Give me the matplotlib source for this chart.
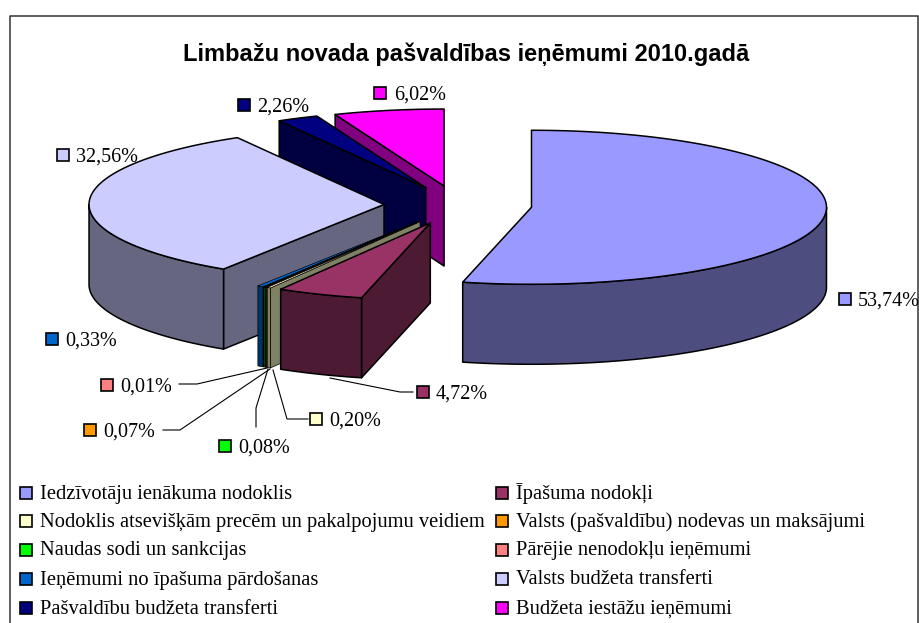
"""Limbazu novada budget income, exploded 3D-look pie drawn from wedge polygons."""
import numpy as np
import matplotlib

matplotlib.use("Agg")
import matplotlib.pyplot as plt
from matplotlib.colors import to_rgb
from matplotlib.patches import Polygon, Rectangle

plt.rcParams["font.family"] = ["Liberation Serif", "DejaVu Serif"]

TITLE = "Limbažu novada pašvaldības ieņēmumi 2010.gadā"
categories = [
    "Iedzīvotāju ienākuma nodoklis",
    "Īpašuma nodokļi",
    "Nodoklis atsevišķām precēm un pakalpojumu veidiem",
    "Valsts (pašvaldību) nodevas un maksājumi",
    "Naudas sodi un sankcijas",
    "Pārējie nenodokļu ieņēmumi",
    "Ieņēmumi no īpašuma pārdošanas",
    "Valsts budžeta transferti",
    "Pašvaldību budžeta transferti",
    "Budžeta iestāžu ieņēmumi",
]
shares = [53.74, 4.72, 0.20, 0.07, 0.08, 0.01, 0.33, 32.56, 2.26, 6.02]
colors = ["#9999FF", "#993366", "#FFFFCC", "#FF9900", "#00FF00",
          "#FF8080", "#0066CC", "#CCCCFF", "#000080", "#FF00FF"]

# pie geometry, in pixels of the figure
CX, CY = 458, 205
RX, RY = 295, 77
DEPTH = 80
EXPLODE = 74
EDGE = 1.1
THIN_EDGE = 0.5  # the tiny slices would be all outline otherwise

# square left, square centre y, text left per label, same order as shares
LABEL_POS = [(839, 299, 858), (417, 392, 436), (310, 419, 329), (84, 430, 103), (219, 446, 238),
             (101, 385, 120), (46, 339, 65), (57, 155, 76), (238, 105, 257), (374, 93, 394)]
LEADERS = {
    1: [(330, 378), (400, 392), (413, 392)],
    2: [(308, 419), (287, 419), (273, 370)],
    3: [(163, 430), (180, 430), (270, 369)],
    4: [(256, 427), (256, 408), (268, 369)],
    5: [(179, 384), (197, 384), (267, 368)],
}
LEGEND_X = [(20, 40), (496, 516)]
LEGEND_Y = [493, 521, 550, 579, 608]


def rim(cx, cy, t):
    return np.column_stack([cx + RX * np.sin(t), cy - RY * np.cos(t)])


def draw_slice(ax, start, end, color, lw):
    mid = (start + end) / 2
    cx = CX + EXPLODE * np.sin(mid)
    cy = CY - EXPLODE * RY / RX * np.cos(mid)
    side = tuple(c * 0.5 for c in to_rgb(color))
    down = np.array([0, DEPTH])
    apex = np.array([cx, cy])
    style = dict(edgecolor="black", linewidth=lw, joinstyle="round")

    # radial walls, only the ones turned towards the viewer
    for t, visible in ((start, np.sin(start) < 0), (end, np.sin(end) > 0)):
        if visible:
            p = rim(cx, cy, np.array([t]))[0]
            ax.add_patch(Polygon([apex, p, p + down, apex + down], facecolor=side, **style))
    # curved front, the part of the rim between 90 and 270 degrees
    lo, hi = max(start, np.pi / 2), min(end, 3 * np.pi / 2)
    if hi > lo:
        arc = rim(cx, cy, np.linspace(lo, hi, 80))
        ax.add_patch(Polygon(np.vstack([arc, arc[::-1] + down]), facecolor=side, **style))
    arc = rim(cx, cy, np.linspace(start, end, 160))
    ax.add_patch(Polygon(np.vstack([apex, arc]), facecolor=color, **style))


def swatch(ax, x, yc, color):
    ax.add_patch(Rectangle((x, yc - 6), 12, 12, facecolor=color, edgecolor="black", linewidth=1.2))


def main():
    fig = plt.figure(figsize=(9.2, 6.23), dpi=100, facecolor="white")
    ax = fig.add_axes([0, 0, 1, 1])
    ax.set_xlim(0, 920)
    ax.set_ylim(623, 0)
    ax.axis("off")

    ax.plot([10.5, 10.5, 918.5, 918.5], [623, 16, 16, 623], color="#333333", lw=1.1)
    ax.text(466, 54, TITLE, family="Liberation Sans", weight="bold", fontsize=17,
            ha="center", va="center", color="black")

    edges = 2 * np.pi * np.cumsum([0] + shares) / sum(shares)
    for i in reversed(range(len(shares))):
        lw = THIN_EDGE if shares[i] < 0.5 else EDGE
        draw_slice(ax, edges[i], edges[i + 1], colors[i], lw)

    for pts in LEADERS.values():
        xs, ys = zip(*pts)
        ax.plot(xs, ys, color="black", lw=0.8)

    for value, color, (sx, sy, tx) in zip(shares, colors, LABEL_POS):
        swatch(ax, sx, sy, color)
        ax.text(tx, sy + 2, f"{value:.2f}%".replace(".", ","), fontsize=14.5, ha="left",
                va="center", color="black")

    for i, (name, color) in enumerate(zip(categories, colors)):
        sx, tx = LEGEND_X[i % 2]
        yc = LEGEND_Y[i // 2]
        swatch(ax, sx, yc, color)
        ax.text(tx, yc + 1, name, fontsize=14.8, ha="left", va="center", color="black")

    fig.savefig("out.png", dpi=100)
    plt.close(fig)


if __name__ == "__main__":
    main()
